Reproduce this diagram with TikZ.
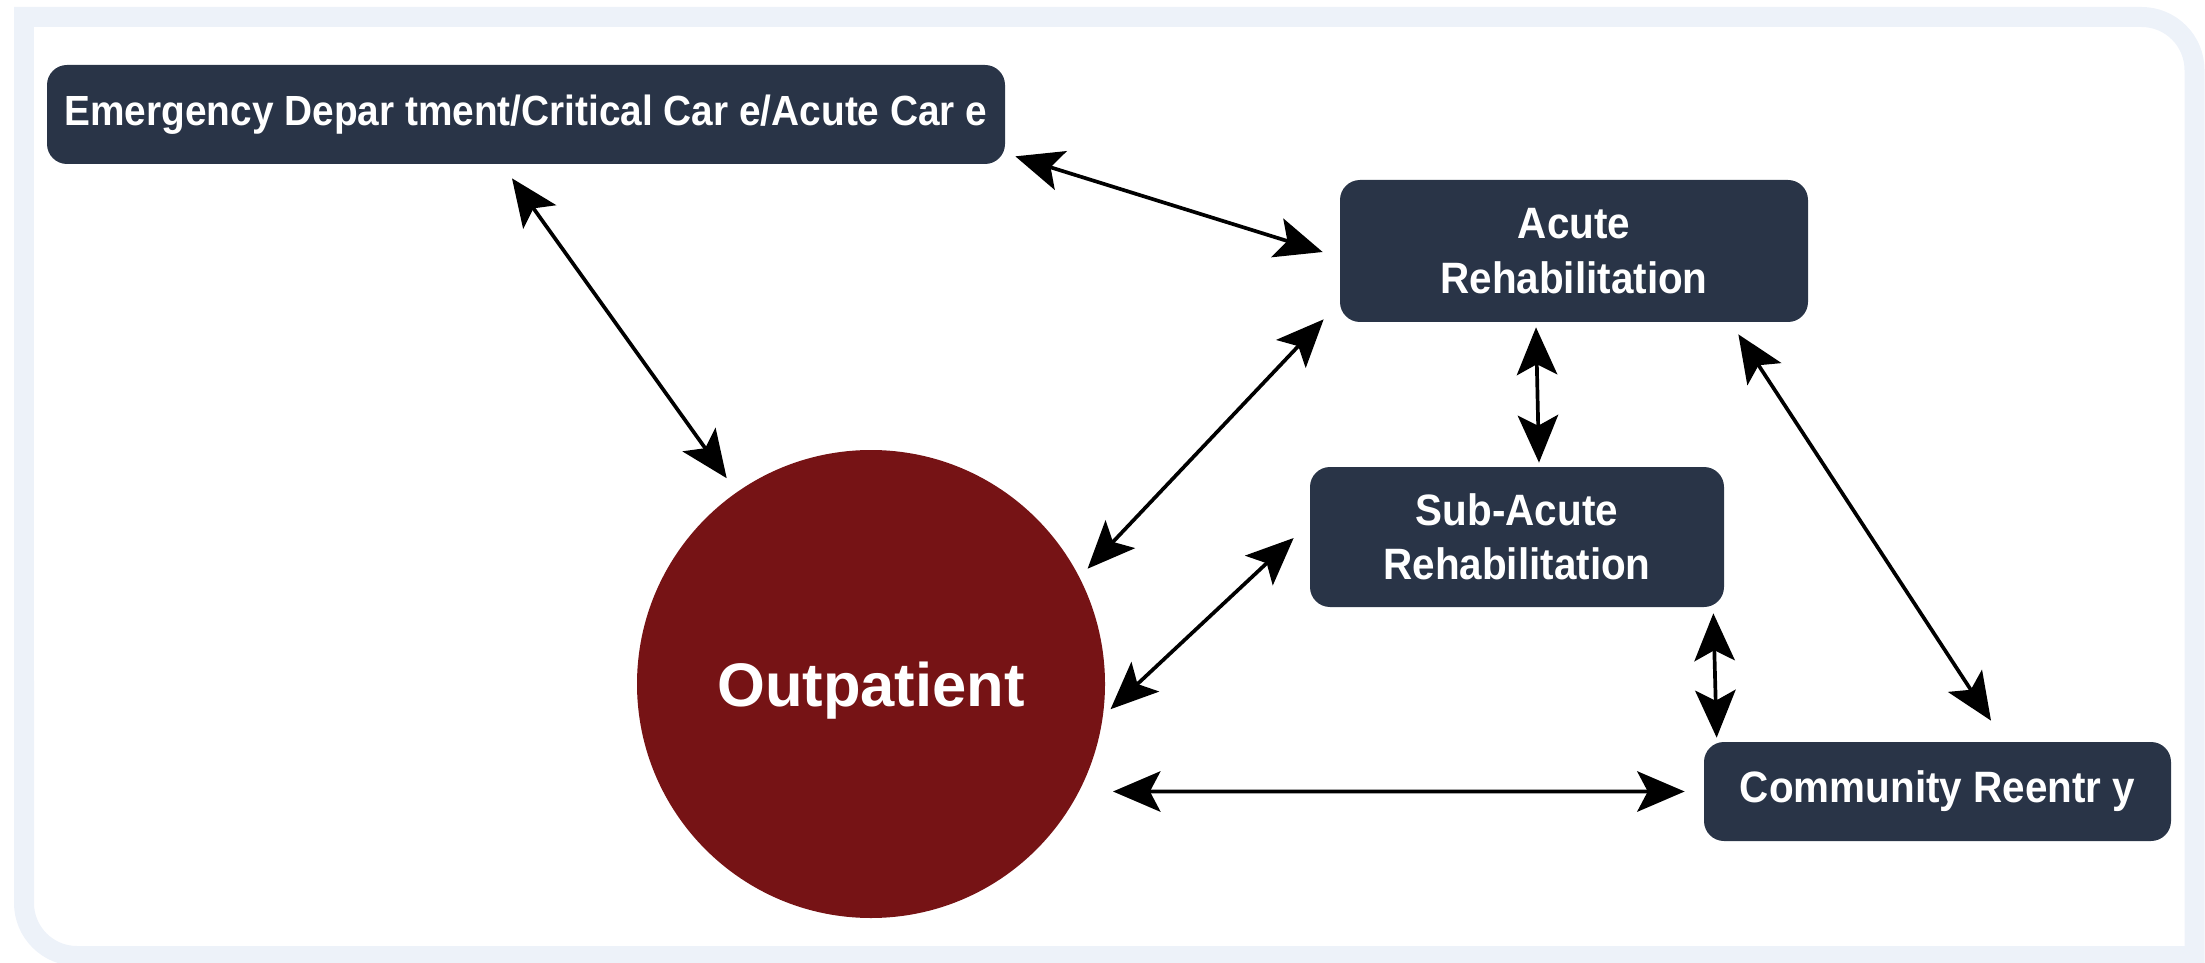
\documentclass[tikz,border=0pt]{standalone}
\usepackage{fontspec}
\setmainfont{Liberation Sans}
\newfontfamily\boxfont[FakeStretch=0.92]{Liberation Sans}
\usepackage{tikz}
\usetikzlibrary{arrows.meta, positioning}
\definecolor{navy}{RGB}{41,52,71}
\definecolor{maroon}{RGB}{118,19,21}
\definecolor{framegray}{RGB}{237,242,249}
\tikzstyle{unit} = [rectangle, rounded corners=0.4cm, fill=navy, text=white, align=center, inner sep=0pt, font={\boxfont\bfseries\fontsize{25}{31}\selectfont}]
\tikzstyle{hub} = [circle, fill=maroon, text=white, minimum size=9.36cm, inner sep=0pt, text depth=0pt, font={\bfseries\fontsize{35}{42}\selectfont}]
\tikzstyle{link} = [line width=2.1pt, >={Stealth[length=27pt, width=23pt, inset=6pt]}, <->]

\begin{document}
\begin{tikzpicture}[node distance=5.72cm]
        \useasboundingbox (0,0) rectangle (44.1,-19.26);
        % outer frame
        \draw [line width=0.4cm, framegray, line join=miter] (0.48,-0.34) -- (42.83,-0.34) arc[start angle=90, end angle=0, radius=1.06] -- (43.89,-19.12) -- (1.54,-19.12) arc[start angle=270, end angle=180, radius=1.06] -- cycle;

        \node (out) [hub] at (17.42,-13.68) {Outpatient};
        \node (acute) [unit, right of=out, xshift=8.34cm, yshift=8.66cm, minimum width=9.36cm, minimum height=2.84cm] {Acute\\Rehabilitation};
        \node (subacute) [unit, below of=acute, xshift=-1.14cm, minimum width=8.28cm, minimum height=2.80cm] {Sub-Acute\\Rehabilitation};
        \node (comm) [unit, below of=subacute, xshift=8.41cm, yshift=0.63cm, minimum width=9.34cm, minimum height=1.98cm] {Community Reentr y};
        \node (ed) [unit, above of=out, xshift=-6.90cm, yshift=5.67cm, minimum width=19.16cm, minimum height=1.98cm, font={\boxfont\bfseries\fontsize{24}{30}\selectfont}] {Emergency Depar tment/Critical Car e/Acute Car e};

        \draw [link] ([shift={(0.20,0.16)}]ed.south east) -- ([shift={(-0.34,-0.02)}]acute.west);
        \draw [link] ([shift={(-0.28,-0.28)}]ed.south) -- ([shift={(125.6:0.34)}]out.125.6);
        \draw [link] ([shift={(-0.32,0.06)}]acute.south west) -- ([shift={(28.6:0.22)}]out.28.6);
        \draw [link] ([shift={(-0.76,-0.10)}]acute.south) -- ([shift={(0.44,0.08)}]subacute.north);
        \draw [link] ([shift={(-0.32,-0.02)}]subacute.west) -- ([shift={(-6.4:0.13)}]out.-6.4);
        \draw [link] ([shift={(-1.40,-0.24)}]acute.south east) -- ([shift={(1.07,0.42)}]comm.north);
        \draw [link] ([shift={(-0.22,-0.12)}]subacute.south east) -- ([shift={(0.26,0.08)}]comm.north west);
        \draw [link] ([shift={(4.84,-2.15)}]out.center) -- ([shift={(-0.38,0)}]comm.west);

\end{tikzpicture}
\end{document}
